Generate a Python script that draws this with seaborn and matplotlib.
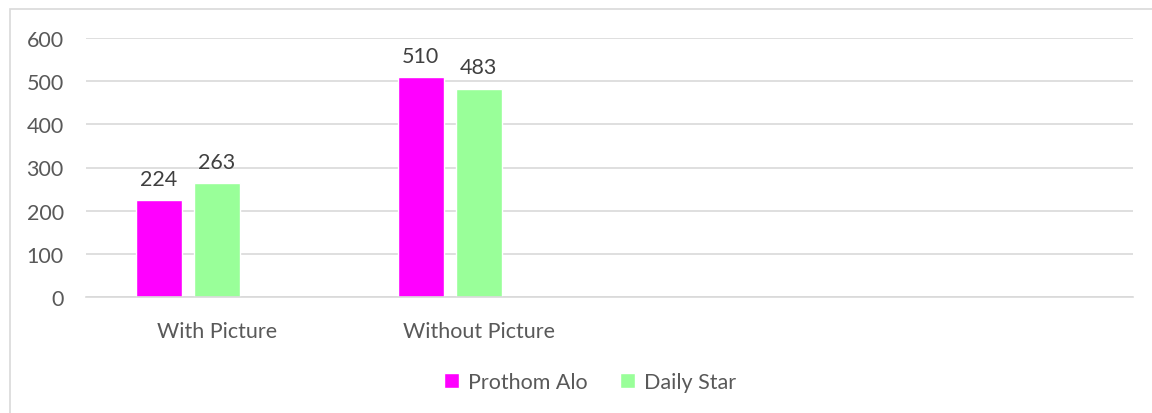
import matplotlib
matplotlib.use("Agg")
import matplotlib.pyplot as plt
import seaborn as sns
import pandas as pd
from matplotlib.patches import Rectangle, Patch

categories = ["With Picture", "Without Picture", " ", "  "]
prothom_alo = [224, 510, None, None]
daily_star = [263, 483, None, None]
series_names = ["Prothom Alo", "Daily Star", "blank"]
colors = ["#FF00FF", "#99FF99", "#FFFFFF"]
y_ticks = [0, 100, 200, 300, 400, 500, 600]

rows = []
for i, c in enumerate(categories):
    rows.append({"cat": c, "series": series_names[0], "val": prothom_alo[i]})
    rows.append({"cat": c, "series": series_names[1], "val": daily_star[i]})
    rows.append({"cat": c, "series": series_names[2], "val": None})
df = pd.DataFrame(rows)
df["val"] = df["val"].astype(float)

sns.set_style("white")
plt.rcParams["font.family"] = ["Lato", "DejaVu Sans"]
text_color = "#595959"
fs = 15.5

fig = plt.figure(figsize=(11.52, 4.14), dpi=100)
ax = fig.add_axes([86/1152, 1-298/414, (1133-86)/1152, (298-39)/414])

sns.barplot(data=df, x="cat", y="val", hue="series", order=categories,
            hue_order=series_names, palette=colors, width=0.664, gap=0.207,
            ax=ax, legend=False, saturation=1, errorbar=None)

ax.set_ylim(0, 600)
ax.set_xlim(-0.5, len(categories) - 0.5)
ax.set_yticks(y_ticks)
ax.set_yticklabels([str(t) for t in y_ticks])
ax.yaxis.grid(True, color="#D9D9D9", linewidth=1.2)
ax.set_axisbelow(True)
for s in ["top", "right", "left"]:
    ax.spines[s].set_visible(False)
ax.spines["bottom"].set_color("#D9D9D9")
ax.spines["bottom"].set_linewidth(1.2)
ax.tick_params(axis="both", length=0, labelsize=fs, colors=text_color)
ax.tick_params(axis="y", pad=16)
ax.tick_params(axis="x", pad=17)
ax.set_xlabel("")
ax.set_ylabel("")

for cont in ax.containers[:2]:
    labels = [("%d" % v) if v == v else "" for v in cont.datavalues]
    ax.bar_label(cont, labels=labels, padding=8, fontsize=fs, color="#404040")

handles = [Patch(facecolor=colors[0], label=series_names[0]),
           Patch(facecolor=colors[1], label=series_names[1])]
fig.legend(handles=handles, loc="center", bbox_to_anchor=(590/1152, 1-383/414),
           ncol=2, frameon=False, fontsize=fs, labelcolor=text_color,
           handlelength=0.7, handleheight=0.7, handletextpad=0.4, columnspacing=1.5)

fig.patches.append(Rectangle((10/1152, -0.1), 1.2, 1 - 10/414 + 0.1,
                             transform=fig.transFigure, fill=False,
                             edgecolor="#D9D9D9", linewidth=1.2))

fig.savefig("out.png", dpi=100)
